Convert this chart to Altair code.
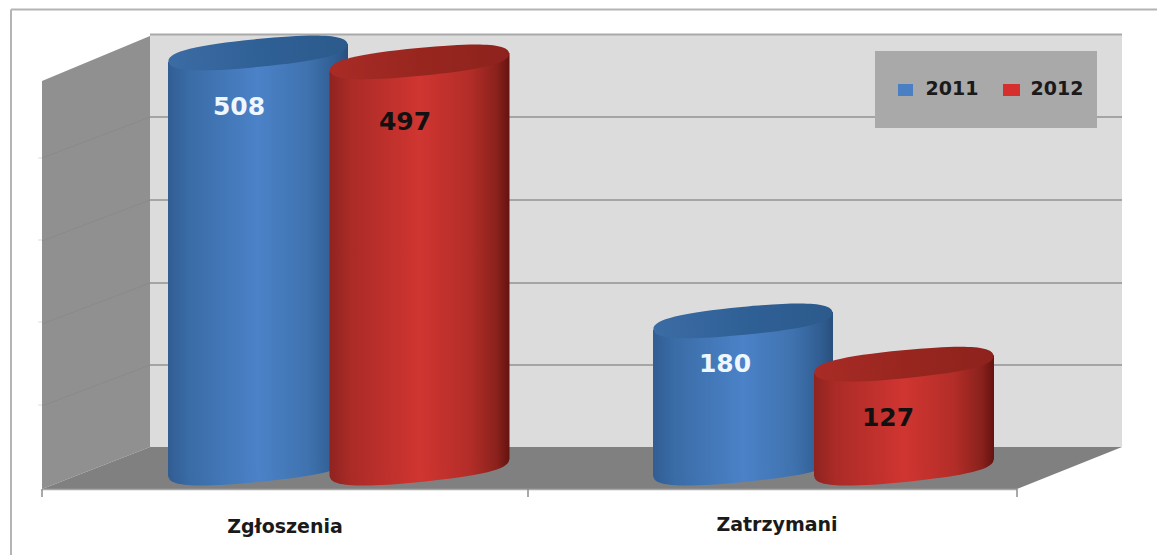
import altair as alt
import pandas as pd

# --- chart values ---
categories = ["Zgłoszenia", "Zatrzymani"]
series = ["2011", "2012"]
values_2011 = [508, 180]
values_2012 = [497, 127]

# --- layout (image pixels) ---
BASE_PY, K = 468.0, 0.817
def V(py):
    return (BASE_PY - py) / K

X_SCALE = alt.Scale(domain=[8, 1157], nice=False, zero=False)
Y_SCALE = alt.Scale(domain=[V(555), V(8)], nice=False, zero=False)
X = alt.X("x:Q", scale=X_SCALE, axis=None)
Y = alt.Y("y:Q", scale=Y_SCALE, axis=None)
Y2 = alt.Y2("y2:Q")


def poly(xs, tops, bots, fill):
    df = pd.DataFrame({"x": xs, "y": [V(p) for p in tops], "y2": [V(p) for p in bots]})
    return alt.Chart(df).mark_area(fill=fill, orient="vertical", interpolate="linear").encode(x=X, y=Y, y2=Y2)


def segs(items, color, width):
    df = pd.DataFrame([{"x": a, "y": V(b), "x2": c, "y2": V(d)} for a, b, c, d in items])
    return alt.Chart(df).mark_rule(color=color, strokeWidth=width).encode(
        x=X, y=Y, x2=alt.X2("x2:Q"), y2=Y2)


def box(x0, x1, p0, p1, fill):
    df = pd.DataFrame({"x": [x0], "x2": [x1], "y": [V(p0)], "y2": [V(p1)]})
    return alt.Chart(df).mark_rect(fill=fill).encode(x=X, x2=alt.X2("x2:Q"), y=Y, y2=Y2)


def label(x, py, text, size, color):
    df = pd.DataFrame({"x": [x], "y": [V(py)], "t": [text]})
    return alt.Chart(df).mark_text(font="DejaVu Sans", fontWeight="bold", fontSize=size,
                                   color=color, align="center", baseline="middle").encode(
        x=X, y=Y, text="t:N")


def grad(stops):
    return alt.Gradient(gradient="linear", x1=0, x2=1, y1=0, y2=0,
                        stops=[alt.GradientStop(offset=o, color=c) for o, c in stops])


BLUE = grad([(0, "#315d93"), (0.12, "#3a6ca6"), (0.5, "#4b82c8"), (0.78, "#3f72ae"), (0.94, "#2f5c90"), (1, "#284f7c")])
RED = grad([(0, "#8f2320"), (0.12, "#ab2b27"), (0.5, "#d03531"), (0.78, "#b32d28"), (0.93, "#8a211c"), (1, "#641310")])
BLUE_TOP = grad([(0, "#3c6ca4"), (0.5, "#2f6096"), (1, "#2c5a8c")])
RED_TOP = grad([(0, "#a92b26"), (0.5, "#98261f"), (1, "#8e221d")])

# tilted rounded ellipse, unit half-width
ELLIPSE = ("M-1,0 C-1,-0.11 -0.68,-0.155 0,-0.155 C0.68,-0.155 1,-0.11 1,0 "
           "C1,0.11 0.68,0.155 0,0.155 C-0.68,0.155 -1,0.11 -1,0 Z")
HALF = 90


def cylinder(cx, value, body, top):
    df = pd.DataFrame({
        "x": [cx - HALF, cx + HALF],
        "y": [value - 9 / K, value + 9 / K],
        "y2": [V(BASE_PY + 8.5), V(BASE_PY - 8.5)],
    })
    side = alt.Chart(df).mark_area(fill=body, orient="vertical", interpolate="linear").encode(x=X, y=Y, y2=Y2)
    size = (2 * HALF) ** 2
    bottom = alt.Chart(pd.DataFrame({"x": [cx], "y": [V(BASE_PY)]})).mark_point(
        shape=ELLIPSE, size=size, filled=True, fill=body, opacity=1, angle=354.5, strokeWidth=0
    ).encode(x=X, y=Y)
    cap = alt.Chart(pd.DataFrame({"x": [cx], "y": [value]})).mark_point(
        shape=ELLIPSE, size=size, filled=True, fill=top, opacity=1, angle=354.5, strokeWidth=0
    ).encode(x=X, y=Y)
    return [bottom, side, cap]


layers = []
# frame
layers.append(segs([(11, 9.5, 1157, 9.5), (11, 9.5, 11, 555)], "#b4b4b4", 2))
# back wall, floor, side wall
layers.append(box(150, 1122, 34, 447, "#dcdcdc"))
layers.append(segs([(150, 34.5, 1122, 34.5)], "#a9a9a9", 2))
layers.append(segs([(150, p, 1122, p) for p in (117, 200, 283, 365)], "#a5a5a5", 2))
layers.append(poly([42, 150], [81, 36], [489, 447], "#909090"))
layers.append(segs([(42, p + 41, 150, p) for p in (117, 200, 283, 365)], "#8a8a8a", 1))
layers.append(poly([42, 150, 1017, 1122], [489, 447, 447, 447], [489, 489, 489, 447], "#808080"))
# axes
layers.append(segs([(42, 489.5, 1017, 489.5)], "#a8a8a8", 1.5))
layers.append(segs([(x, 489, x, 497) for x in (42, 528, 1017)], "#8c8c8c", 1.5))
layers.append(segs([(38, p, 42, p) for p in (158, 240, 322, 405)], "#dddddd", 1))

# cylinders
centers = {"2011": [258, 743], "2012": [419.5, 904]}
for i, _cat in enumerate(categories):
    layers += cylinder(centers["2011"][i], values_2011[i], BLUE, BLUE_TOP)
    layers += cylinder(centers["2012"][i], values_2012[i], RED, RED_TOP)

# value labels
layers.append(label(239, 107, str(values_2011[0]), 25, "#eef6ff"))
layers.append(label(405, 122, str(values_2012[0]), 25, "#111111"))
layers.append(label(725, 364, str(values_2011[1]), 25, "#eef6ff"))
layers.append(label(888, 418, str(values_2012[1]), 25, "#111111"))

# category labels
layers.append(label(285, 527, categories[0], 19, "#1a1a1a"))
layers.append(label(777, 525, categories[1], 19, "#1a1a1a"))

# legend
layers.append(box(875, 1097, 51, 128, "#a9a9a9"))
layers.append(box(898, 913, 84, 96, "#4a7fc4"))
layers.append(box(1003, 1020, 84, 96, "#d6302e"))
layers.append(label(952, 89, series[0], 19, "#1a1a1a"))
layers.append(label(1057, 89, series[1], 19, "#1a1a1a"))

chart = alt.layer(*layers).properties(
    width=1149, height=547, padding=0, background="#ffffff",
    autosize=alt.AutoSizeParams(type="none"),
).configure_view(stroke=None)

chart.save("out.html", embed_options={"renderer": "svg", "actions": False})
